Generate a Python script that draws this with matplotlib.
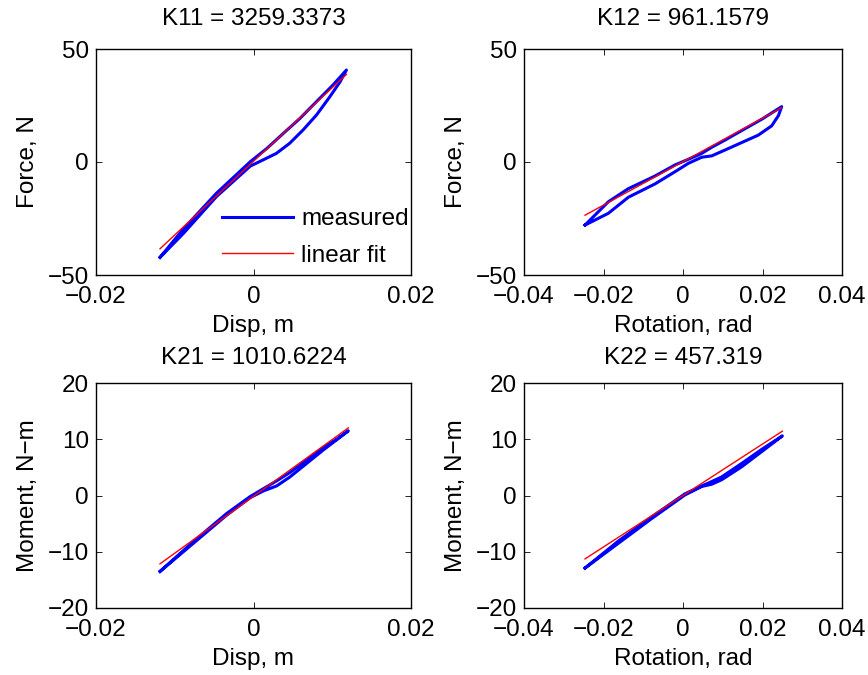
import numpy as np
import matplotlib
matplotlib.use("Agg")
import matplotlib.pyplot as plt

FS = 17.5
plt.rcParams["font.family"] = ["Liberation Sans", "DejaVu Sans"]
plt.rcParams["font.size"] = FS
plt.rcParams["axes.unicode_minus"] = True

# ---- measured force/moment vs displacement/rotation loops ----
# K11: force vs displacement
k11_disp = [-0.01187, -0.0089, -0.0047, -0.0004, 0.0012, 0.0029, 0.0046, 0.0063,
            0.0080, 0.0097, 0.0110, 0.0118,
            0.0101, 0.0080, 0.0059, 0.0038, 0.0017, -0.0004, -0.0047, -0.0089, -0.01187]
k11_force = [-42.2, -31.6, -15.3, -1.8, 0.9, 3.8, 8.3, 14.2,
             20.8, 28.9, 35.5, 40.7,
             34.1, 26.7, 19.3, 12.7, 6.0, 0.15, -13.8, -29.6, -42.2]
K11 = "3259.3373"
b11 = 0.3

# K12: force vs rotation
k12_rot = [-0.02465, -0.01878, -0.01375, -0.00704, -0.00201, 0.00134, 0.00470, 0.00721,
           0.01057, 0.01476, 0.01895, 0.02231, 0.02400, 0.02483,
           0.01979, 0.01476, 0.01057, 0.00721, 0.00470, 0.00134, -0.00201, -0.00704,
           -0.01375, -0.01878, -0.02465]
k12_force = [-27.9, -22.7, -15.6, -9.7, -4.3, -0.6, 2.1, 2.7,
             5.3, 8.6, 11.9, 16.0, 20.5, 24.5,
             18.9, 13.9, 9.7, 6.5, 3.8, 1.2, -1.3, -6.2,
             -11.8, -17.6, -27.9]
K12 = "961.1579"
b12 = 0.15

# K21: moment vs displacement
k21_disp = [-0.01187, -0.00764, -0.00341, -0.00044, 0.00124, 0.00294, 0.00463, 0.00675,
            0.00887, 0.01056, 0.01204,
            0.01056, 0.00887, 0.00675, 0.00463, 0.00294, 0.00124, -0.00044, -0.00341,
            -0.00764, -0.01187]
k21_moment = [-13.5, -8.5, -3.5, -0.4, 0.8, 1.7, 3.3, 5.7,
              8.1, 9.9, 11.5,
              10.0, 8.5, 6.3, 4.1, 2.6, 1.2, -0.2, -3.2,
              -8.2, -13.5]
K21 = "1010.6224"
b21 = -0.15

# K22: moment vs rotation
k22_rot = [-0.02465, -0.01627, -0.00788, 0.0005, 0.0047, 0.0072, 0.00973, 0.01476,
           0.0198, 0.0250,
           0.0198, 0.01476, 0.00973, 0.00637, 0.0047, 0.0005, -0.00788, -0.01627, -0.02465]
k22_moment = [-12.9, -8.5, -4.1, 0.1, 1.6, 2.0, 2.8, 5.1,
              7.8, 10.6,
              8.2, 5.7, 3.3, 2.2, 1.7, 0.3, -3.8, -8.1, -12.9]
K22 = "457.319"
b22 = 0.0

MINUS = "\u2212"

panels = [
    dict(x=k11_disp, y=k11_force, K=K11, b=b11, name="K11", xlabel="Disp, m",
         ylabel="Force, N", xlim=(-0.02, 0.02), xticks=[-0.02, 0, 0.02],
         xtl=[MINUS + "0.02", "0", "0.02"], ylim=(-50, 50), yticks=[-50, 0, 50],
         pos=[96, 49, 411, 275], legend=True, tpad=17.5),
    dict(x=k12_rot, y=k12_force, K=K12, b=b12, name="K12", xlabel="Rotation, rad",
         ylabel="Force, N", xlim=(-0.04, 0.04), xticks=[-0.04, -0.02, 0, 0.02, 0.04],
         xtl=[MINUS + "0.04", MINUS + "0.02", "0", "0.02", "0.04"], ylim=(-50, 50),
         yticks=[-50, 0, 50], pos=[524, 49, 842, 275], legend=False, tpad=17.5),
    dict(x=k21_disp, y=k21_moment, K=K21, b=b21, name="K21", xlabel="Disp, m",
         ylabel="Moment, N" + MINUS + "m", xlim=(-0.02, 0.02), xticks=[-0.02, 0, 0.02],
         xtl=[MINUS + "0.02", "0", "0.02"], ylim=(-20, 20), yticks=[-20, -10, 0, 10, 20],
         pos=[96, 383, 411, 608], legend=False, tpad=14),
    dict(x=k22_rot, y=k22_moment, K=K22, b=b22, name="K22", xlabel="Rotation, rad",
         ylabel="Moment, N" + MINUS + "m", xlim=(-0.04, 0.04),
         xticks=[-0.04, -0.02, 0, 0.02, 0.04],
         xtl=[MINUS + "0.04", MINUS + "0.02", "0", "0.02", "0.04"], ylim=(-20, 20),
         yticks=[-20, -10, 0, 10, 20], pos=[524, 383, 842, 608], legend=False, tpad=14),
]

W, H = 868, 675
fig = plt.figure(figsize=(W / 100, H / 100), dpi=100)

for p in panels:
    x0, y0, x1, y1 = p["pos"]
    ax = fig.add_axes([x0 / W, 1 - y1 / H, (x1 - x0) / W, (y1 - y0) / H])
    x = np.array(p["x"])
    y = np.array(p["y"])
    K = float(p["K"])
    ax.plot(x, y, color=(0, 0, 1), lw=2.2, solid_joinstyle="round", label="measured")
    xf = np.array([x.min(), x.max()])
    ax.plot(xf, K * xf + p["b"], color=(1, 0, 0), lw=1.0, label="linear fit")
    ax.set_xlim(*p["xlim"])
    ax.set_ylim(*p["ylim"])
    ax.set_xticks(p["xticks"])
    ax.set_xticklabels(p["xtl"])
    ax.set_yticks(p["yticks"])
    ax.set_yticklabels([str(v).replace("-", MINUS) for v in p["yticks"]])
    ax.tick_params(direction="in", length=4, width=0.6, top=True, right=True,
                   labelsize=FS)
    ax.tick_params(axis="x", pad=8)
    ax.tick_params(axis="y", pad=5)
    for s in ax.spines.values():
        s.set_linewidth(1.0)
    ax.set_title(f"{p['name']} = {p['K']}", fontsize=FS, pad=p["tpad"])
    ax.set_xlabel(p["xlabel"], labelpad=5)
    ax.set_ylabel(p["ylabel"], labelpad=6)
    if p["legend"]:
        ax.legend(loc="lower right", bbox_to_anchor=(1.005, 0.02), frameon=False,
                  handlelength=2.95, labelspacing=0.6, borderaxespad=0.0,
                  borderpad=0.15, handletextpad=0.33, fontsize=FS)

fig.savefig("out.png", dpi=100)
